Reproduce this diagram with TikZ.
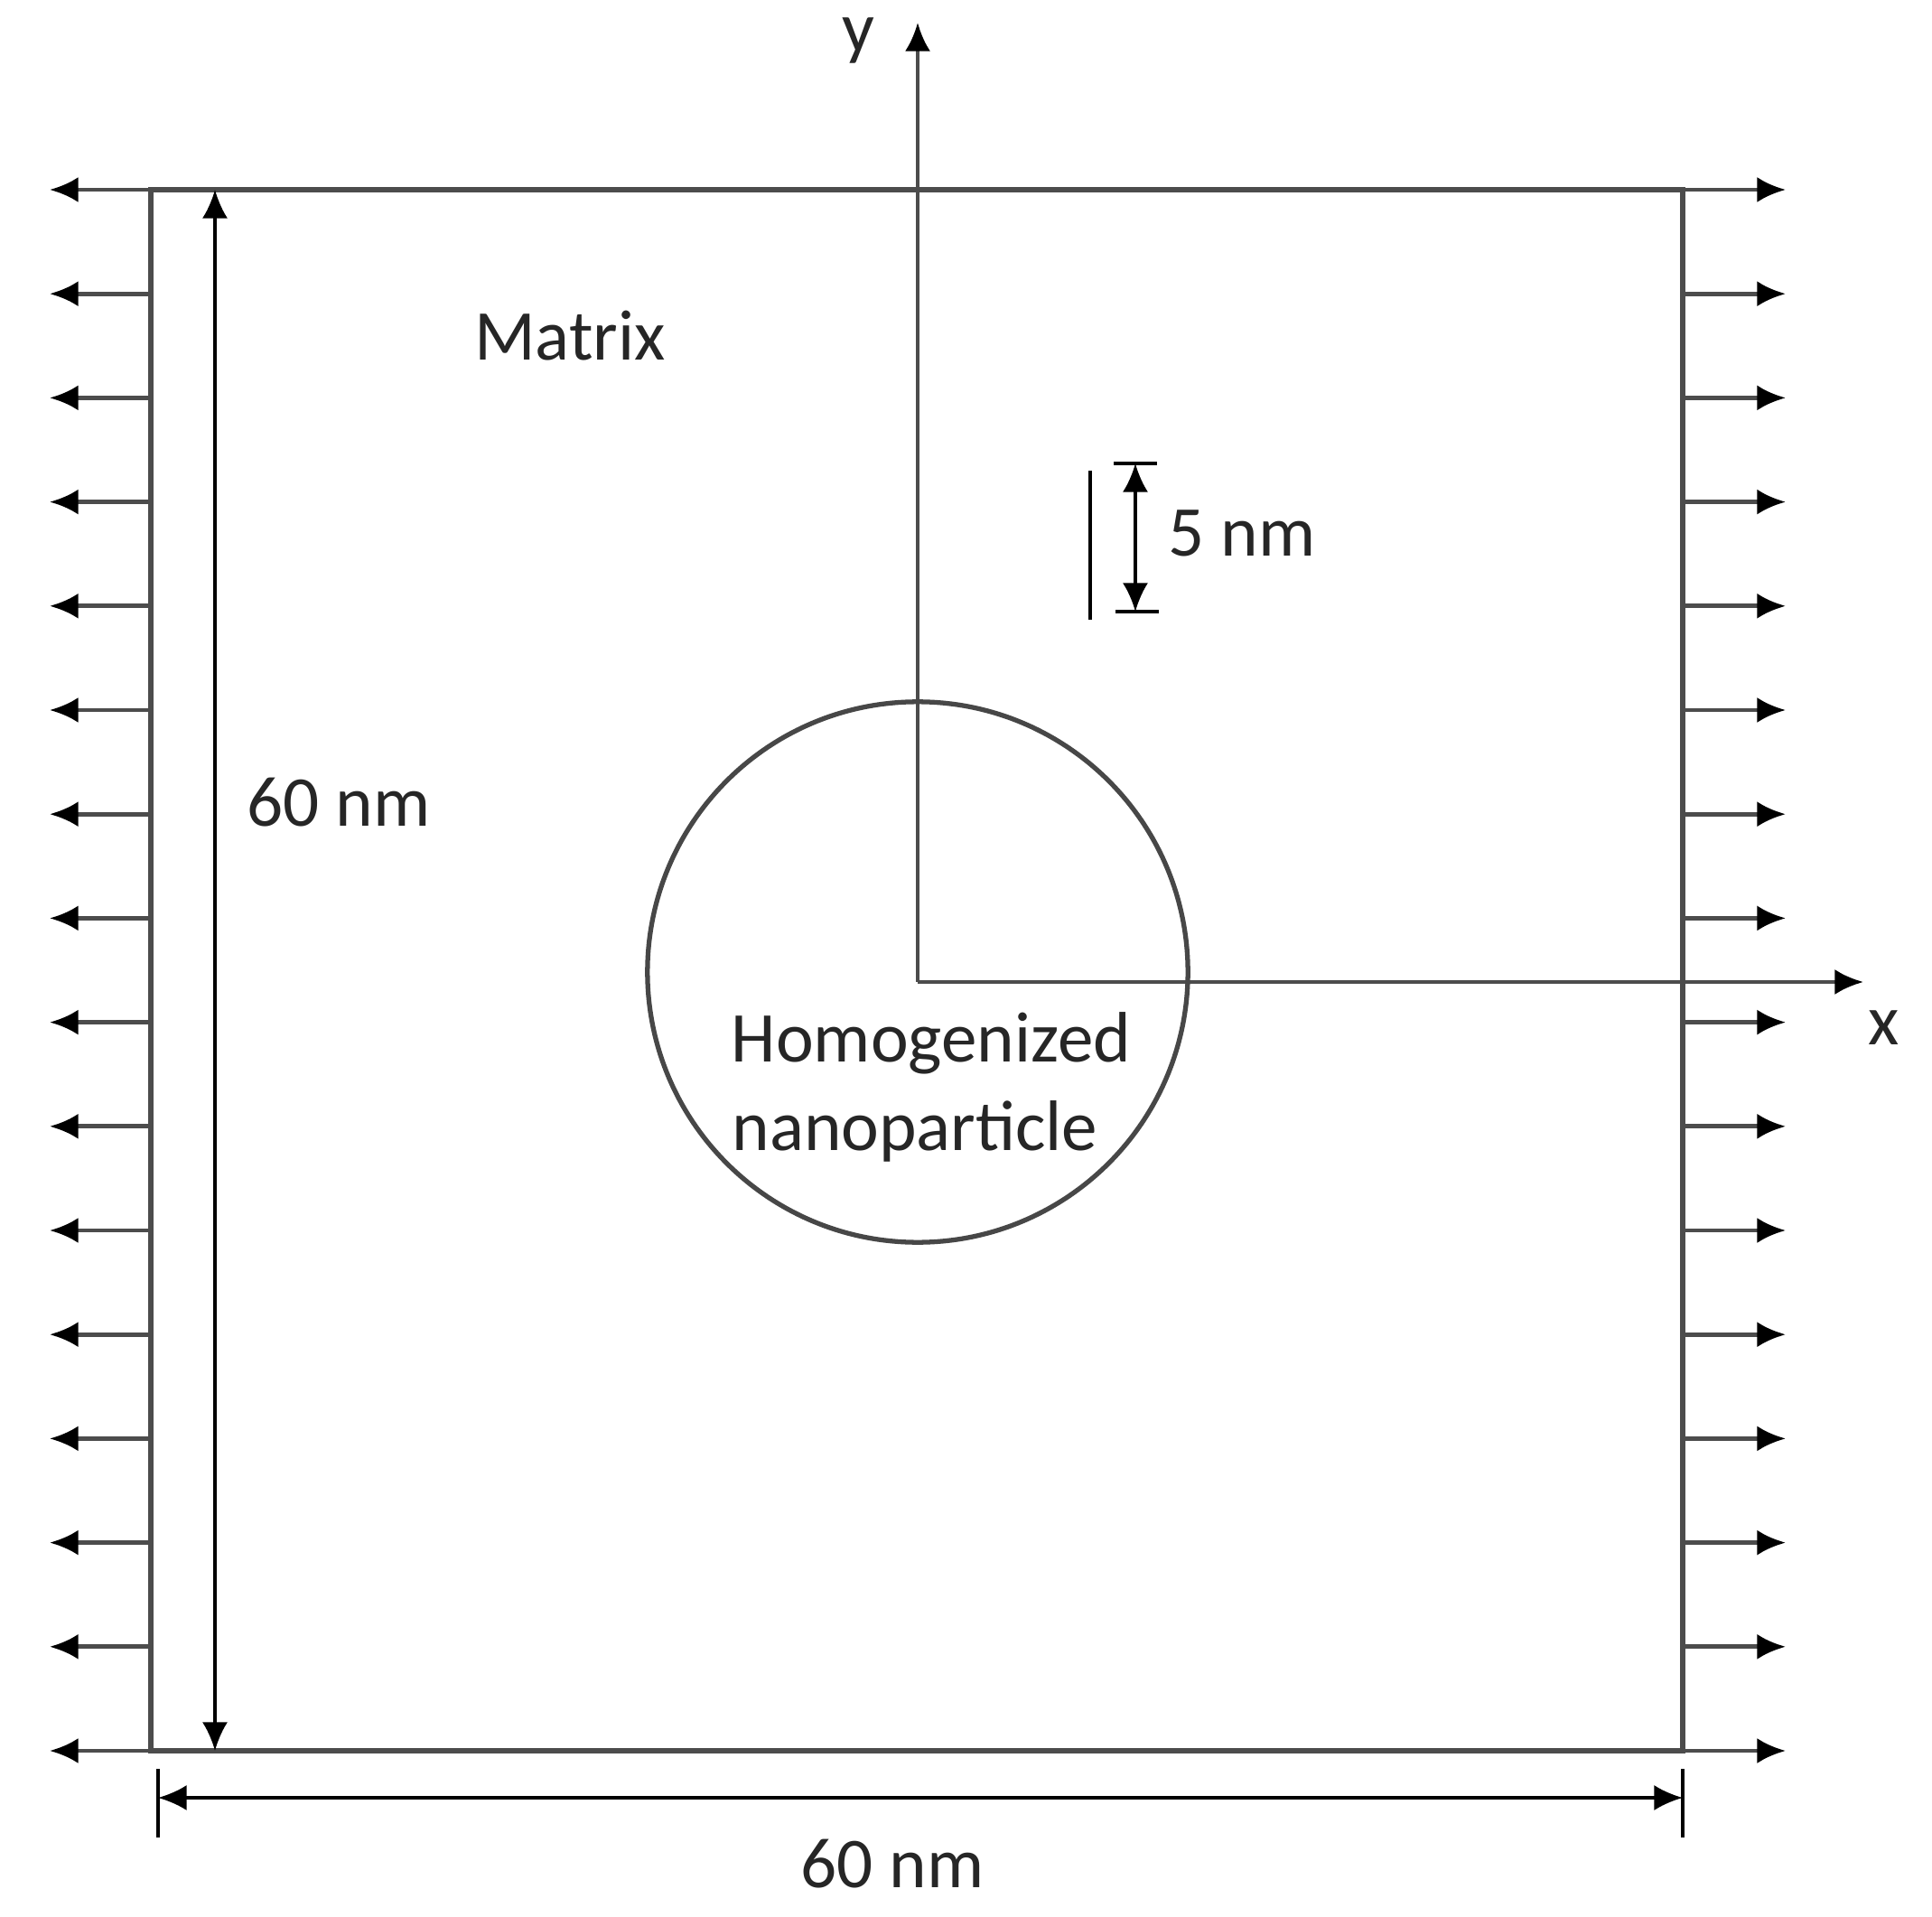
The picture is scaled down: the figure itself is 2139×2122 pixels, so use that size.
\documentclass[tikz,border=0pt]{standalone}
\usepackage{fontspec}
\setmainfont{Carlito}
\usetikzlibrary{arrows.meta,calc}
\tikzset{>={Latex[length=9pt,width=8pt,color=black]}}
\tikzset{
  frame/.style={line width=1.8pt,color=black!70},
  load/.style={line width=1.4pt,color=black!70,->},
  axis/.style={line width=1.3pt,color=black!70,->},
  dim/.style={line width=1pt,color=black},
  lbl/.style={font=\fontsize{22.5}{27}\selectfont,text=black!85,inner sep=0pt}
}

\begin{document}
\begin{tikzpicture}[line cap=butt,line join=miter,x=0.01cm,y=-0.01cm]
		\useasboundingbox (0,0) rectangle (2139,2122);
		% matrix cell
		\coordinate (nw) at (167,210);
		\coordinate (se) at (1863,1938);
		\draw[frame] (nw) rectangle (se);
		% tension on left and right edges
		\foreach \k in {0,...,15} {
			\coordinate (l\k) at (167,{210+\k*115.2});
			\coordinate (r\k) at (1863,{210+\k*115.2});
			\draw[load] (l\k) -- ++(-112,0);
			\draw[load] (r\k) -- ++(114,0);
		}
		% axes
		\coordinate (O) at (1016,1087);
		\coordinate (xend) at (2063,1087);
		\coordinate (yend) at (1016,25);
		\draw[axis] (O) -- (xend);
		\draw[axis] (O) -- (yend);
		\node[lbl] (xlab) at (2086,1138) {x};
		\node[lbl] (ylab) at (950,45) {y};
		% particle
		\node[circle,draw,line width=1.5pt,color=black!72,minimum size=5.98cm,inner sep=0pt] (np) at (1016,1076) {};
		\node[lbl] (hom) at (1031,1155) {Homogenized};
		\node[lbl] (nano) at (1013,1252) {nanoparticle};
		\node[lbl] (mat) at (631,372) {Matrix};
		% cell height
		\coordinate (ht) at (238,210);
		\coordinate (hb) at (238,1938);
		\draw[dim,<->] (ht) -- (hb);
		\node[lbl] (hlab) at (375,888) {60 nm};
		% cell width
		\coordinate (wl) at (175,1990);
		\coordinate (wr) at (1863,1990);
		\draw[dim] ($(wl)+(0,-32)$) -- ($(wl)+(0,44)$);
		\draw[dim] ($(wr)+(0,-32)$) -- ($(wr)+(0,44)$);
		\draw[dim,<->] (wl) -- (wr);
		\node[lbl] (wlab) at (988,2063) {60 nm};
		% interphase thickness
		\coordinate (tt) at (1257,513);
		\coordinate (tb) at (1257,677);
		\draw[dim] ($(tt)+(-24,0)$) -- ($(tt)+(24,0)$);
		\draw[dim] ($(tb)+(-22,0)$) -- ($(tb)+(26,0)$);
		\draw[dim,<->] (tt) -- (tb);
		\draw[line width=1.2pt] (1207,521) -- (1207,686);
		\node[lbl] (tlab) at (1375,590) {5 nm};
\end{tikzpicture}
\end{document}
